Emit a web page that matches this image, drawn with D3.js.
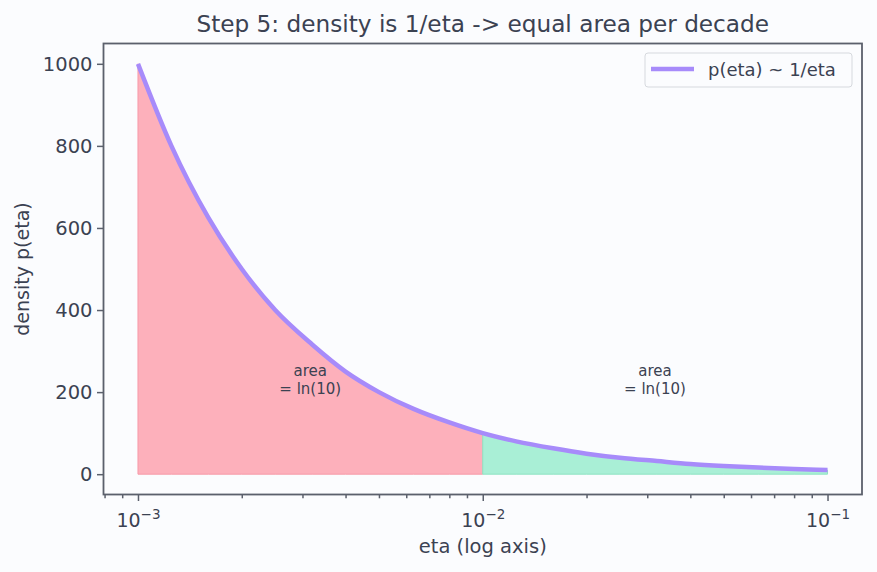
<!DOCTYPE html>
<html>
<head>
<meta charset="utf-8">
<script src="https://cdn.jsdelivr.net/npm/d3@7"></script>
<style>
  body { margin: 0; background: #fbfcfe; }
  svg { display: block; font-family: "DejaVu Sans", sans-serif; }
  .tick text { fill: #3b4252; }
</style>
</head>
<body>
<div class="chart"></div>
<script>
'use strict';

// curve (eta, density)
const eta = [0.001, 0.00125, 0.0016, 0.002, 0.0025, 0.0032, 0.004, 0.005, 0.0063, 0.008,
  0.01, 0.0125, 0.016, 0.02, 0.025, 0.032, 0.04, 0.05, 0.063, 0.08, 0.1];
const density = [1000, 800, 625, 500, 400, 316, 250, 200, 159, 126,
  100, 80, 63, 50, 40, 32, 25, 20, 16, 12.5, 10];

const decadeEdges = [0.001, 0.01, 0.1];
const yTicks = [0, 200, 400, 600, 800, 1000];
const xTicks = [0.001, 0.01, 0.1];
const xTickExp = ['\u22123', '\u22122', '\u22121'];
const noteEta = [0.00316, 0.0316];
const noteY = 231;

const W = 877, H = 572;
const M = {left: 103.5, right: 15, top: 43.5, bottom: 77.5};
const TXT = '#3b4252';

const svg = d3.select('.chart')
  .append('svg')
    .attr('width', W)
    .attr('height', H);

const x = d3.scaleLog()
    .domain([Math.pow(10, -3.1), Math.pow(10, -0.9)])
    .range([M.left, W - M.right]);

const y = d3.scaleLinear()
    .domain([-49.5, 1049.5])
    .range([H - M.bottom, M.top]);

const pts = eta.map((e, i) => ({e: e, d: density[i]}));

const area = d3.area()
    .x(d => x(d.e))
    .y0(y(0))
    .y1(d => y(d.d))
    .curve(d3.curveMonotoneX);

const fills = ['#fdb0bb', '#a9efd6'];
const edges = ['#f79aa8', '#8fe3c3'];
decadeEdges.slice(0, -1).forEach((lo, i) => {
  let hi = decadeEdges[i + 1];
  let seg = pts.filter(p => p.e >= lo && p.e <= hi);
  svg.append('path')
      .attr('d', area(seg))
      .attr('fill', fills[i])
      .attr('stroke', edges[i])
      .attr('stroke-width', 1);
});

const line = d3.line()
    .x(d => x(d.e))
    .y(d => y(d.d))
    .curve(d3.curveMonotoneX);

svg.append('path')
    .attr('d', line(pts))
    .attr('fill', 'none')
    .attr('stroke', '#a78bfa')
    .attr('stroke-width', 4.5)
    .attr('stroke-linecap', 'butt');

noteEta.forEach(e => {
  let t = svg.append('text')
      .attr('x', x(e))
      .attr('y', y(noteY))
      .attr('text-anchor', 'middle')
      .attr('font-size', 15)
      .attr('fill', TXT);
  t.append('tspan').attr('x', x(e)).attr('dy', '-0.25em').text('area');
  t.append('tspan').attr('x', x(e)).attr('dy', '1.2em').text('= ln(10)');
});

// axes
const axisColor = '#5b606c';

const yAxis = svg.append('g')
    .attr('transform', `translate(${M.left},0)`)
    .call(d3.axisLeft(y).tickValues(yTicks).tickSize(6.5).tickPadding(4.5)
      .tickFormat(d3.format('d')));
yAxis.selectAll('text').attr('font-size', 19.5).attr('font-family', 'DejaVu Sans');

const minor = [];
for (let p = -4; p <= -1; p++) {
  for (let k = 2; k <= 9; k++) {
    let v = k * Math.pow(10, p);
    if (v > x.domain()[0] && v < x.domain()[1]) minor.push(v);
  }
}
svg.append('g')
    .attr('transform', `translate(0,${H - M.bottom})`)
    .call(d3.axisBottom(x).tickValues(minor).tickSize(3.8).tickFormat(''));

const xAxis = svg.append('g')
    .attr('transform', `translate(0,${H - M.bottom})`)
    .call(d3.axisBottom(x).tickValues(xTicks).tickSize(6.5).tickPadding(6)
      .tickFormat(() => ''));
xAxis.selectAll('.tick text').each(function(d, i) {
  let t = d3.select(this)
      .attr('font-size', 19)
      .attr('font-family', 'DejaVu Sans')
      .attr('dy', null)
      .attr('y', 32);
  t.append('tspan').text('10');
  t.append('tspan').attr('font-size', 13.5).attr('dy', -8).text(xTickExp[i]);
});

svg.selectAll('.domain').remove();
svg.selectAll('.tick line').attr('stroke', axisColor).attr('stroke-width', 1.5);

svg.append('rect')
    .attr('x', M.left).attr('y', M.top)
    .attr('width', W - M.left - M.right)
    .attr('height', H - M.top - M.bottom)
    .attr('fill', 'none')
    .attr('stroke', axisColor)
    .attr('stroke-width', 1.8);

// labels
svg.append('text')
    .attr('x', (M.left + W - M.right) / 2)
    .attr('y', 32)
    .attr('text-anchor', 'middle')
    .attr('font-size', 23.2)
    .attr('fill', TXT)
    .text('Step 5: density is 1/eta -> equal area per decade');

svg.append('text')
    .attr('x', (M.left + W - M.right) / 2)
    .attr('y', 553)
    .attr('text-anchor', 'middle')
    .attr('font-size', 19.5)
    .attr('fill', TXT)
    .text('eta (log axis)');

svg.append('text')
    .attr('transform', `translate(29,${(M.top + H - M.bottom) / 2}) rotate(-90)`)
    .attr('text-anchor', 'middle')
    .attr('font-size', 19)
    .attr('fill', TXT)
    .text('density p(eta)');

// legend
const lg = svg.append('g').attr('transform', 'translate(645,53)');
lg.append('rect')
    .attr('width', 207).attr('height', 34).attr('rx', 3)
    .attr('fill', '#fbfcfe').attr('stroke', '#d6d9de');
lg.append('line')
    .attr('x1', 6).attr('x2', 49).attr('y1', 16).attr('y2', 16)
    .attr('stroke', '#a78bfa').attr('stroke-width', 4.5);
lg.append('text')
    .attr('x', 63).attr('y', 22.5)
    .attr('font-size', 18)
    .attr('fill', TXT)
    .text('p(eta) ~ 1/eta');
</script>
</body>
</html>
